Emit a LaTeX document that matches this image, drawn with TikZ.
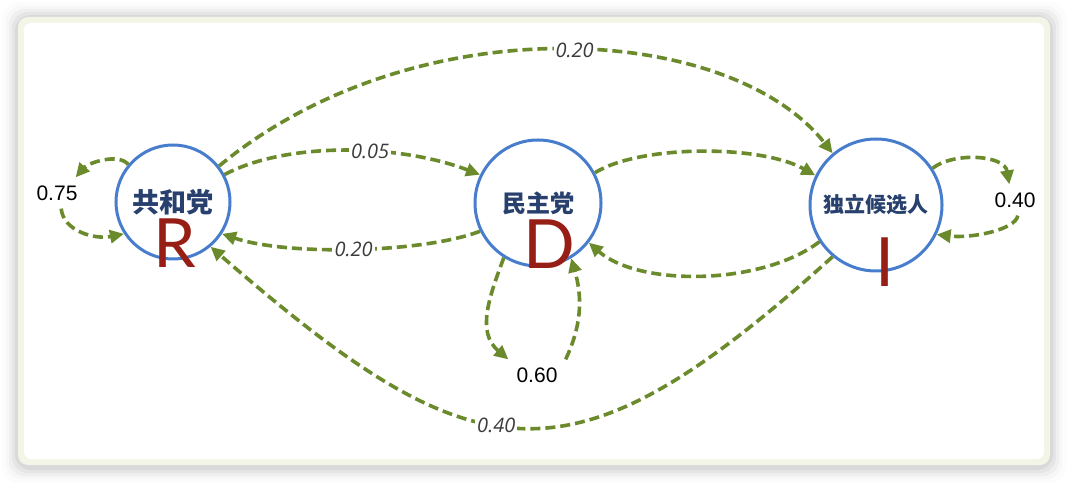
\documentclass[tikz,border=0pt]{standalone}
\usepackage{fontspec}
\usepackage{tikz}
\usetikzlibrary{arrows.meta}
\setmainfont{Liberation Sans}
\newfontfamily\cjkfont{Noto Sans CJK SC}
\newfontfamily\letterfont{Lato}
\newfontfamily\probfont{Open Sans}
\definecolor{edgegreen}{RGB}{106,138,44}
\definecolor{ringblue}{RGB}{72,125,205}
\definecolor{partyblue}{RGB}{40,64,110}
\definecolor{letterred}{RGB}{150,30,20}
\definecolor{framecream}{RGB}{243,245,230}
\definecolor{probgray}{RGB}{60,60,60}
\tikzset{ % Common styles, so we don't repeat ourselves
	party/.style={circle, draw=ringblue, line width=3pt, fill=white, inner sep=0pt,
		text=partyblue, font=\cjkfont\bfseries\fontsize{#1}{#1}\selectfont}, % The states
	trans/.style={draw=edgegreen, line width=3.6pt, dash pattern=on 10pt off 5pt,
		-{Triangle[length=14pt,width=13pt]}}, % Dashed arrows between states
	prob/.style={fill=white, inner sep=2pt, text=probgray,
		font=\probfont\itshape\fontsize{20}{20}\selectfont}, % Numbers on the arrows
	stay/.style={inner sep=8pt, font=\fontsize{21}{21}\selectfont}, % Numbers of the loops
	letter/.style={inner sep=0pt, text=letterred, font=\letterfont\fontsize{68}{68}\selectfont}
}

\begin{document}
\begin{tikzpicture}[x=1pt, y=1pt]
	% Canvas and frame
	\useasboundingbox (0,0) rectangle (1068,482);
	\fill[white] (0,0) rectangle (1068,482);
	\foreach \d/\o in {16/0.012, 12/0.02, 9/0.03, 6/0.04, 3/0.05}
		\fill[black, opacity=\o, rounded corners=16pt] (18-\d,15-\d) rectangle (1050+\d,464+\d);
	\fill[framecream, rounded corners=10pt] (18,17) rectangle (1050,465);
	\fill[white, rounded corners=7pt] (24,23) rectangle (1044,459);
	% States
	\node[party=27, minimum size=114pt] (R) at (173,280) {共和党};
	\node[party=24, minimum size=126pt] (D) at (538,279) {民主党};
	\node[party=21, minimum size=132pt] (I) at (876,277) {独立候选人};
	% Loop numbers
	\node[stay] (lblR) at (57,289) {0.75};
	\node[stay] (lblD) at (537,107) {0.60};
	\node[stay] (lblI) at (1015,282) {0.40};
	% Transitions
	\draw[trans] (R.38) .. controls +(196,162) and +(-103,131) .. (I.130) node[prob, pos=0.52] {0.20};
	\draw[trans] (R.28) .. controls +(62,33) and +(-81,31) .. (D.154) node[prob, pos=0.59] {0.05};
	\draw[trans] (D.206) .. controls +(-58,-22) and +(65,-22) .. (R.327) node[prob, pos=0.5] {0.20};
	\draw[trans] (D.28) .. controls +(45,28) and +(-55,31) .. (I.154);
	\draw[trans] (I.213) .. controls +(-58,-44) and +(50,-44) .. (D.322);
	\draw[trans] (I.230) .. controls +(-263,-237) and +(267,-232) .. (R.310) node[prob, pos=0.55] {0.40};
	% Loops
	\draw[trans] (R.140) .. controls +(-10,12) and +(12,14) .. (lblR.40);
	\draw[trans] (lblR.-75) .. controls +(2,-22) and +(-30,-6) .. (R.213);
	\draw[trans] (D.238) .. controls +(-15,-40) and +(-32,27) .. (lblD.north west);
	\draw[trans] (lblD.north east) .. controls +(18,38) and +(10,-35) .. (D.301);
	\draw[trans] (I.33) .. controls +(20,16) and +(-5,30) .. (lblI.110);
	\draw[trans] (lblI.-80) .. controls +(-2,-14) and +(35,-4) .. (I.334);
	% Letters
	\node[letter] (RL) at (175,239) {R};
	\node[letter] (DL) at (549,238) {D};
	\node[letter] (IL) at (885,220) {I};
\end{tikzpicture}
\end{document}
